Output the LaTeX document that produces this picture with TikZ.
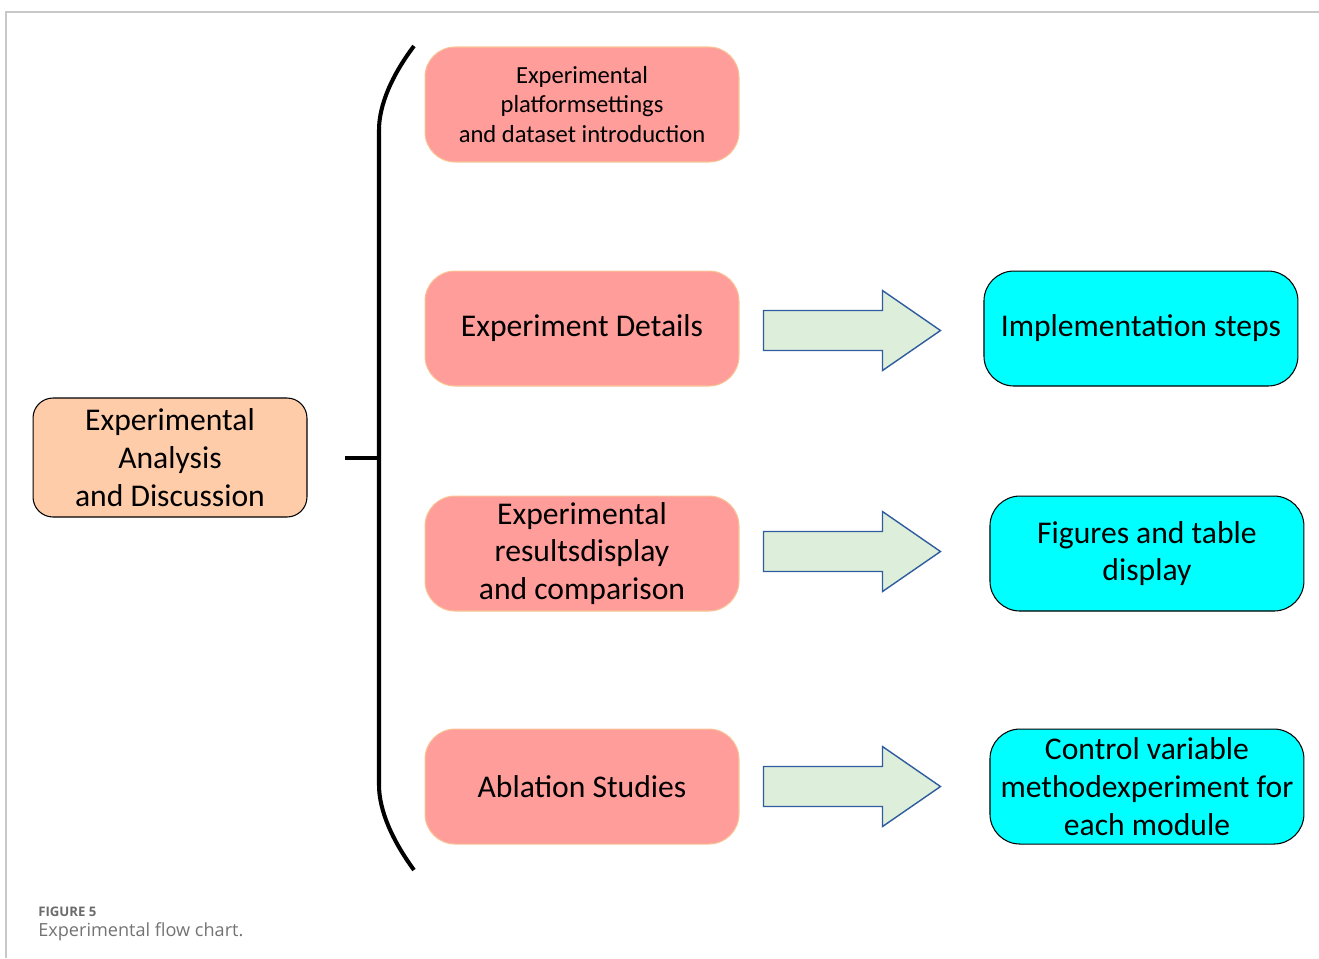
\documentclass[tikz,border=0pt]{standalone}
\usepackage{fontspec}
\setmainfont{Carlito}
\newfontfamily\capfont{Open Sans}
\usetikzlibrary{positioning}
\definecolor{peach}{RGB}{255,204,170}
\definecolor{salmon}{RGB}{255,157,154}
\definecolor{salmonline}{RGB}{248,196,150}
\definecolor{aqua}{RGB}{0,255,255}
\definecolor{mint}{RGB}{221,238,218}
\definecolor{arrowblue}{RGB}{46,92,158}
\definecolor{framegray}{RGB}{200,200,200}

\tikzset{
  topic/.style={rectangle, rounded corners=0.4cm, draw=black, line width=0.6pt, fill=peach,
    minimum width=5.48cm, minimum height=2.38cm, align=center, font=\fontsize{18}{21.5}\selectfont},
  part/.style={rectangle, rounded corners=0.6cm, draw=salmonline, line width=0.6pt, fill=salmon,
    minimum width=6.28cm, minimum height=2.3cm, align=center, font=\fontsize{18}{21.5}\selectfont},
  result/.style={rectangle, rounded corners=0.6cm, draw=black, line width=0.6pt, fill=aqua,
    minimum width=6.28cm, minimum height=2.3cm, align=center, font=\fontsize{18}{21.5}\selectfont},
  blockarrow/.style={draw=arrowblue, line width=0.8pt, fill=mint},
}

\begin{document}
\begin{tikzpicture}[x=0.02cm, y=-0.02cm]
  \useasboundingbox (0,0) rectangle (1319,958);
  \draw[framegray, line width=1pt] (6,958) -- (6,12) -- (1319,12);

  \node[topic] (main) at (170,457.5) {Experimental\\Analysis\\and Discussion};

  \node[part, font=\fontsize{14}{17}\selectfont] (setup) at (582,104.5)
    {Experimental\\platformsettings\\and dataset introduction};
  \node[part] (details) [below=2.16cm of setup] {Experiment Details};
  \node[part] (display) [below=2.18cm of details] {Experimental\\resultsdisplay\\and comparison};
  \node[part] (ablation) [below=2.34cm of display] {Ablation Studies};

  \node[result] (steps) [right=4.88cm of details] {Implementation steps};
  \node[result] (figures) [right=5cm of display] {Figures and table\\display};
  \node[result] (control) [right=5cm of ablation] {Control variable\\methodexperiment for\\each module};

  % brace grouping the four parts
  \coordinate (braceTop) at (414,46);
  \coordinate (braceBot) at (414,870);
  \coordinate (spine) at (379,458);
  \coordinate (tick) at (345,458);
  \draw[line width=2.3pt] (braceTop) .. controls (392,75) and (379,105) .. (379,130)
    -- (379,785) .. controls (379,810) and (392,840) .. (braceBot);
  \draw[line width=2.3pt] (tick) -- (spine);

  % block arrows from parts to results
  \foreach \p/\dy in {details/2, display/-2, ablation/0}
    \draw[blockarrow] ([xshift=0.48cm, yshift=-\dy*0.02cm]\p.east) -- ++(0,-20) -- ++(119,0) -- ++(0,-20)
      -- ++(58,40) -- ++(-58,40) -- ++(0,-20) -- ++(-119,0) -- cycle;

  \node[anchor=base west, inner sep=0, text=black!58, font=\capfont\bfseries\fontsize{7.5}{9}\selectfont]
    (fignum) at (38,916) {FIGURE 5};
  \node[anchor=base west, inner sep=0, text=black!55, font=\capfont\fontsize{10.3}{12}\selectfont]
    (figcap) at (38,936) {Experimental flow chart.};
\end{tikzpicture}
\end{document}
